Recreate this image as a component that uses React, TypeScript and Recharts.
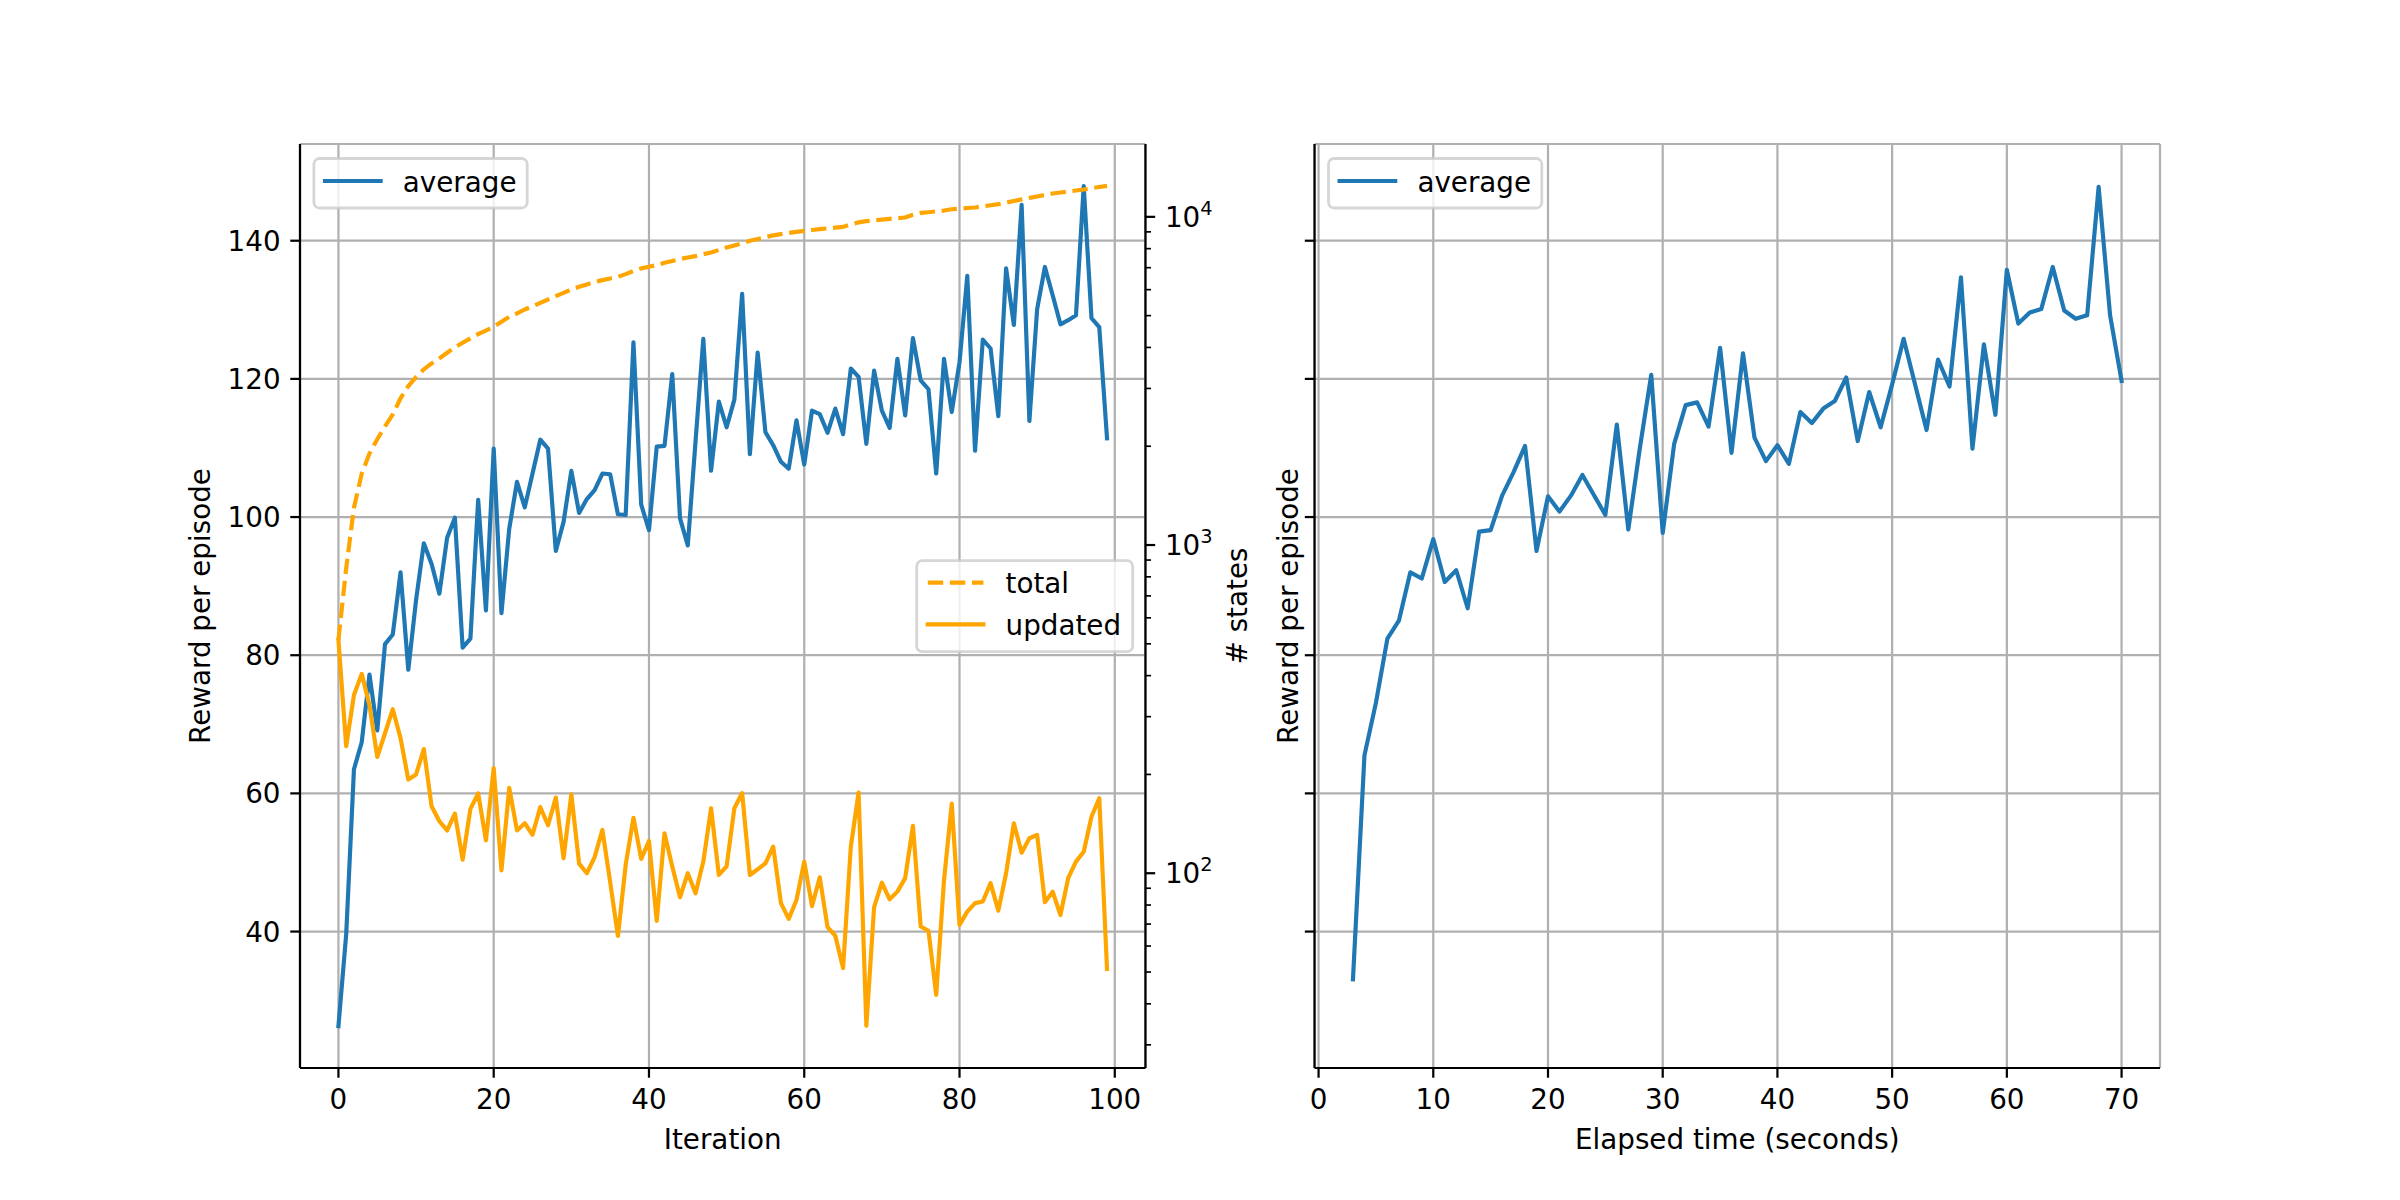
import React from 'react';
import { LineChart, Line, XAxis, YAxis, CartesianGrid } from 'recharts';

// ---------------- data ----------------
const iterations: number[] = Array.from({ length: 100 }, (_, i) => i);

const averageReward: number[] = [
  26.3, 39.6, 63.5, 67.4, 77.2, 69.1, 81.6, 83.0, 92.0, 77.9,
  88.0, 96.2, 93.2, 88.9, 97.0, 99.9, 81.1, 82.4, 102.5, 86.5,
  109.9, 86.1, 98.3, 105.1, 101.4, 106.3, 111.2, 109.9, 95.1, 99.3,
  106.7, 100.6, 102.6, 103.9, 106.3, 106.2, 100.4, 100.3, 125.3, 101.8,
  98.1, 110.2, 110.3, 120.7, 99.8, 95.9, 111.0, 125.8, 106.7, 116.7,
  113.0, 117.0, 132.3, 109.1, 123.8, 112.3, 110.4, 108.0, 107.0, 114.0,
  107.6, 115.4, 114.9, 112.2, 115.7, 112.0, 121.5, 120.3, 110.6, 121.2,
  115.4, 112.9, 122.9, 114.7, 125.9, 119.8, 118.5, 106.3, 122.9, 115.2,
  122.4, 134.9, 109.6, 125.7, 124.4, 114.6, 136.0, 127.8, 145.2, 113.9,
  130.1, 136.2, 132.1, 127.9, 128.5, 129.2, 147.9, 128.8, 127.5, 111.4,
];

const totalStates: number[] = [
  514, 850, 1300, 1650, 1900, 2100, 2300, 2500, 2800, 3050,
  3250, 3430, 3575, 3706, 3854, 4003, 4133, 4263, 4395, 4500,
  4626, 4790, 4960, 5077, 5220, 5340, 5466, 5600, 5733, 5867,
  6008, 6120, 6225, 6326, 6415, 6492, 6567, 6690, 6835, 6965,
  7045, 7130, 7247, 7333, 7435, 7520, 7590, 7696, 7786, 7923,
  8070, 8180, 8296, 8454, 8560, 8680, 8780, 8860, 8930, 8995,
  9060, 9120, 9170, 9220, 9270, 9320, 9480, 9620, 9700, 9760,
  9810, 9860, 9910, 9955, 10150, 10280, 10330, 10390, 10450, 10550,
  10590, 10640, 10680, 10760, 10850, 10930, 11050, 11180, 11300, 11420,
  11540, 11660, 11780, 11860, 11940, 12030, 12110, 12220, 12330, 12430,
];

const updatedStates: number[] = [
  514, 244, 349, 405, 325, 226, 267, 316, 258, 193,
  200, 239, 160, 144, 135, 152, 110, 157, 175, 126,
  209, 102, 182, 135, 142, 131, 159, 140, 170, 111,
  174, 107, 100, 112, 135.5, 94, 64.4, 106, 147.6, 110.6,
  125.4, 71.6, 132.4, 104.8, 84.5, 100, 86.9, 108.5, 157.8, 98.8,
  105, 157.8, 175.5, 98.8, 102.8, 107.2, 120.5, 81.1, 72.6, 82.9,
  108.4, 79.4, 97.2, 68.5, 64.5, 51.4, 120.5, 176, 34.3, 78.8,
  93.6, 83.3, 87.9, 96.6, 139.4, 68.8, 66.8, 42.6, 95, 163,
  69.6, 76.4, 81.1, 82, 93.3, 76.9, 100, 142, 115.5, 127.8,
  130.8, 81.6, 87.9, 74.6, 96.6, 108.5, 116.3, 148.6, 169.2, 51.1,
];

const elapsedSeconds: number[] = [
  3, 4, 5, 6, 7, 8, 9, 10, 11, 12, 13, 14, 15, 16, 17, 18, 19, 20, 21, 22,
  23, 24, 25, 26, 27, 28, 29, 30, 31, 32, 33, 34, 35, 36, 37, 38, 39, 40, 41, 42,
  43, 44, 45, 46, 47, 48, 49, 50, 51, 52, 53, 54, 55, 56, 57, 58, 59, 60, 61, 62,
  63, 64, 65, 66, 67, 68, 69, 70,
];

const averageByTime: number[] = [
  33.1, 65.5, 73.1, 82.4, 85.0, 92.0, 91.1, 96.8, 90.6, 92.3,
  86.8, 97.9, 98.1, 103.1, 106.5, 110.3, 95.1, 103.0, 100.8, 103.1,
  106.1, 103.2, 100.3, 113.4, 98.2, 109.9, 120.6, 97.7, 110.6, 116.2,
  116.6, 113.1, 124.5, 109.3, 123.7, 111.5, 108.1, 110.4, 107.7, 115.2,
  113.6, 115.7, 116.8, 120.2, 111.0, 118.1, 113.0, 119.2, 125.8, 119.2,
  112.6, 122.8, 118.9, 134.7, 109.9, 125.0, 114.8, 135.8, 128.0, 129.6,
  130.1, 136.2, 129.9, 128.7, 129.2, 147.8, 129.2, 119.7,
];

const iterationTicks = [0, 20, 40, 60, 80, 100];
const rewardTicks = [40, 60, 80, 100, 120, 140];
const stateTicks = [
  30, 40, 50, 60, 70, 80, 90, 100,
  200, 300, 400, 500, 600, 700, 800, 900, 1000,
  2000, 3000, 4000, 5000, 6000, 7000, 8000, 9000, 10000,
];
const timeTicks = [0, 10, 20, 30, 40, 50, 60, 70];

const iterData = iterations.map((it, i) => ({
  iteration: it,
  average: averageReward[i],
  total: totalStates[i],
  updated: updatedStates[i],
}));
const timeData = elapsedSeconds.map((t, i) => ({ time: t, average: averageByTime[i] }));

// ---------------- style ----------------
const FONT = '"DejaVu Sans", sans-serif';
const FS = 27.78;
const BLUE = '#1f77b4';
const ORANGE = '#ffa500';
const GRID = '#b0b0b0';
const LW = 4.17;
const SPINE = 2.22;
const TMAJ = 9.72;
const TMIN = 5.56;
const PAD = 9.72;

const BottomTick = (props: any) => {
  const { x, y, payload } = props;
  return (
    <g>
      <line x1={x} x2={x} y1={y} y2={y + TMAJ} stroke="#000" strokeWidth={SPINE} />
      <text x={x} y={y + TMAJ + PAD + 21.1} textAnchor="middle" fontFamily={FONT} fontSize={FS} fill="#000">
        {payload.value}
      </text>
    </g>
  );
};

const LeftTick = (props: any) => {
  const { x, y, payload, hideLabel } = props;
  return (
    <g>
      <line x1={x} x2={x - TMAJ} y1={y} y2={y} stroke="#000" strokeWidth={SPINE} />
      {hideLabel ? null : (
        <text x={x - TMAJ - PAD} y={y + 10} textAnchor="end" fontFamily={FONT} fontSize={FS} fill="#000">
          {payload.value}
        </text>
      )}
    </g>
  );
};

const LogTick = (props: any) => {
  const { x, y, payload } = props;
  const v = payload.value as number;
  const exp = Math.round(Math.log10(v));
  const major = Math.abs(Math.pow(10, exp) - v) < 1e-6;
  if (!major) {
    return <line x1={x} x2={x + TMIN} y1={y} y2={y} stroke="#000" strokeWidth={1.67} />;
  }
  return (
    <g>
      <line x1={x} x2={x + TMAJ} y1={y} y2={y} stroke="#000" strokeWidth={SPINE} />
      <text x={x + TMAJ + PAD} y={y + 10} textAnchor="start" fontFamily={FONT} fontSize={FS} fill="#000">
        10
        <tspan dy={-12} fontSize={FS * 0.7}>{exp}</tspan>
      </text>
    </g>
  );
};

const Legend1 = ({ x, label }: { x: number; label: string }) => (
  <g>
    <rect x={x} y={158.5} width={213.3} height={49.5} rx={5.56} fill="#fff" fillOpacity={0.8} stroke="#cccccc" strokeOpacity={0.8} strokeWidth={2.78} />
    <line x1={x + 11.1} x2={x + 66.7} y1={181} y2={181} stroke={BLUE} strokeWidth={LW} strokeLinecap="square" />
    <text x={x + 88.9} y={191.7} fontFamily={FONT} fontSize={FS} fill="#000">{label}</text>
  </g>
);

export default function App() {
  return (
    <div style={{ position: 'absolute', left: 0, top: 0, width: 2400, height: 1200, background: '#fff', overflow: 'hidden' }}>
      <div style={{ position: 'absolute', left: 0, top: 0 }}>
        <LineChart width={1300} height={1200} data={iterData} margin={{ top: 144, left: 200, right: 54.55, bottom: 32 }}>
          <CartesianGrid yAxisId="left" stroke={GRID} strokeWidth={SPINE} />
          <XAxis
            dataKey="iteration" type="number" domain={[-4.95, 103.95]} allowDataOverflow
            ticks={iterationTicks} interval={0} height={100}
            axisLine={{ stroke: '#000', strokeWidth: SPINE }} tickLine={false} tickSize={0} tickMargin={0}
            tick={<BottomTick />}
          />
          <XAxis
            xAxisId="top" orientation="top" dataKey="iteration" type="number" domain={[-4.95, 103.95]} allowDataOverflow
            height={0} tick={false} tickLine={false} axisLine={{ stroke: '#000', strokeWidth: SPINE }}
          />
          <YAxis
            yAxisId="left" type="number" domain={[20.25, 154.0]} allowDataOverflow ticks={rewardTicks} interval={0} width={100}
            axisLine={{ stroke: '#000', strokeWidth: SPINE }} tickLine={false} tickSize={0} tickMargin={0}
            tick={<LeftTick />}
          />
          <YAxis
            yAxisId="right" orientation="right" type="number" scale="log" domain={[25.5, 16670]} allowDataOverflow
            ticks={stateTicks} interval={0} width={100}
            axisLine={{ stroke: '#000', strokeWidth: SPINE }} tickLine={false} tickSize={0} tickMargin={0}
            tick={<LogTick />}
          />
          <Line yAxisId="left" type="linear" dataKey="average" stroke={BLUE} strokeWidth={LW} dot={false} activeDot={false}
            isAnimationActive={false} strokeLinejoin="round" strokeLinecap="square" />
          <Line yAxisId="right" type="linear" dataKey="total" stroke={ORANGE} strokeWidth={LW} dot={false} activeDot={false}
            isAnimationActive={false} strokeDasharray="15.4 6.67" strokeLinejoin="round" />
          <Line yAxisId="right" type="linear" dataKey="updated" stroke={ORANGE} strokeWidth={LW} dot={false} activeDot={false}
            isAnimationActive={false} strokeLinejoin="round" strokeLinecap="square" />
        </LineChart>
      </div>
      <div style={{ position: 'absolute', left: 1250, top: 0 }}>
        <LineChart width={1150} height={1200} data={timeData} margin={{ top: 144, left: 14.55, right: 240, bottom: 32 }}>
          <CartesianGrid stroke={GRID} strokeWidth={SPINE} />
          <XAxis
            dataKey="time" type="number" domain={[-0.35, 73.35]} allowDataOverflow
            ticks={timeTicks} interval={0} height={100}
            axisLine={{ stroke: '#000', strokeWidth: SPINE }} tickLine={false} tickSize={0} tickMargin={0}
            tick={<BottomTick />}
          />
          <XAxis
            xAxisId="top" orientation="top" dataKey="time" type="number" domain={[-0.35, 73.35]} allowDataOverflow
            height={0} tick={false} tickLine={false} axisLine={{ stroke: '#000', strokeWidth: SPINE }}
          />
          <YAxis
            type="number" domain={[20.25, 154.0]} allowDataOverflow ticks={rewardTicks} interval={0} width={50}
            axisLine={{ stroke: '#000', strokeWidth: SPINE }} tickLine={false} tickSize={0} tickMargin={0}
            tick={<LeftTick hideLabel />}
          />
          <YAxis
            yAxisId="r" orientation="right" type="number" domain={[20.25, 154.0]} allowDataOverflow width={0}
            tick={false} tickLine={false} axisLine={{ stroke: '#000', strokeWidth: SPINE }}
          />
          <Line type="linear" dataKey="average" stroke={BLUE} strokeWidth={LW} dot={false} activeDot={false}
            isAnimationActive={false} strokeLinejoin="round" strokeLinecap="square" />
        </LineChart>
      </div>
      <svg width={2400} height={1200} style={{ position: 'absolute', left: 0, top: 0, pointerEvents: 'none' }}>
        <text x={722.7} y={1149} textAnchor="middle" fontFamily={FONT} fontSize={FS} fill="#000">Iteration</text>
        <text x={1737.3} y={1149} textAnchor="middle" fontFamily={FONT} fontSize={FS} fill="#000">Elapsed time (seconds)</text>
        <text x={210} y={606} textAnchor="middle" transform="rotate(-90 210 606)" fontFamily={FONT} fontSize={FS} fill="#000">Reward per episode</text>
        <text x={1298} y={606} textAnchor="middle" transform="rotate(-90 1298 606)" fontFamily={FONT} fontSize={FS} fill="#000">Reward per episode</text>
        <text x={1247} y={606} textAnchor="middle" transform="rotate(-90 1247 606)" fontFamily={FONT} fontSize={FS} fill="#000"># states</text>
        <Legend1 x={313.9} label="average" />
        <Legend1 x={1328.5} label="average" />
        <g>
          <rect x={916.7} y={560.7} width={216} height={91} rx={5.56} fill="#fff" fillOpacity={0.8} stroke="#cccccc" strokeOpacity={0.8} strokeWidth={2.78} />
          <line x1={927.8} x2={983.4} y1={582.7} y2={582.7} stroke={ORANGE} strokeWidth={LW} strokeDasharray="15.4 6.67" />
          <text x={1005.6} y={593.4} fontFamily={FONT} fontSize={FS} fill="#000">total</text>
          <line x1={927.8} x2={983.4} y1={624.3} y2={624.3} stroke={ORANGE} strokeWidth={LW} strokeLinecap="square" />
          <text x={1005.6} y={635} fontFamily={FONT} fontSize={FS} fill="#000">updated</text>
        </g>
      </svg>
    </div>
  );
}
